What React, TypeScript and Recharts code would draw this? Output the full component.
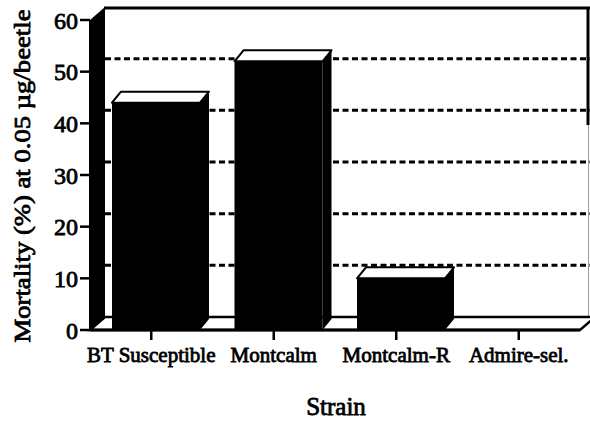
import React from 'react';
import {
  BarChart,
  Bar,
  XAxis,
  YAxis,
  CartesianGrid,
  ReferenceArea,
  Label
} from 'recharts';

const strains = ['BT Susceptible', 'Montcalm', 'Montcalm-R', 'Admire-sel.'];
const mortality = [44, 52, 10, 0];
const yTicks = [0, 10, 20, 30, 40, 50, 60];
const minorTicks = [5, 15, 25, 35, 45, 55];

const data = strains.map((strain, i) => ({ strain, mortality: mortality[i] }));

const FONT = 'Liberation Serif, serif';
// 3D depth of the box and of each bar
const DX = 15;
const DY = -13;
const BDX = 9;
const BDY = -11;
const SHIFT = 5;

function Bar3D(props: any) {
  const { x, y, width, height } = props;
  if (!height || height <= 0) return <g />;
  const x0 = x + SHIFT;
  const x1 = x0 + width;
  return (
    <g>
      <polygon
        points={`${x1},${y} ${x1 + BDX},${y + BDY} ${x1 + BDX},${y + height + BDY} ${x1},${y + height}`}
        fill="#000"
      />
      <rect x={x0} y={y} width={width} height={height} fill="#000" />
      <polygon
        points={`${x0},${y} ${x0 + BDX},${y + BDY} ${x1 + BDX},${y + BDY} ${x1},${y}`}
        fill="#fff"
        stroke="#000"
        strokeWidth={2}
        strokeLinejoin="round"
      />
    </g>
  );
}

function Walls(props: any) {
  const { x, y, width, height } = props;
  const L = x;
  const T = y;
  const R = x + width;
  const B = y + height;
  return (
    <g>
      <polygon points={`${L},${B} ${L},${T} ${L + DX},${T + DY} ${L + DX},${B + DY}`} fill="#000" />
      <line x1={L + DX - 1} y1={T + DY + 1} x2={590} y2={T + DY + 1} stroke="#000" strokeWidth={3} />
      <line x1={588} y1={T + DY} x2={588} y2={125} stroke="#000" strokeWidth={3} />
      <line x1={588.5} y1={125} x2={588.5} y2={B + DY} stroke="#999" strokeWidth={1} />
      <polygon
        points={`${L},${B} ${L + DX},${B + DY} ${R + DX},${B + DY} ${R},${B}`}
        fill="#fff"
        stroke="#000"
        strokeWidth={2.5}
      />
    </g>
  );
}

function GridLine(props: any) {
  const { x1, x2, y1, y, height } = props;
  if (Math.abs(y1 - y) < 1 || Math.abs(y1 - (y + height)) < 1) return <g />;
  return (
    <line
      x1={x1 + DX}
      y1={y1 + DY}
      x2={x2 + DX}
      y2={y1 + DY}
      stroke="#000"
      strokeWidth={3}
      strokeDasharray="6 3.5"
    />
  );
}

const textStyle = { fontFamily: FONT, fill: '#000', stroke: '#000', strokeWidth: 0.8 };

export default function App() {
  return (
    <div style={{ position: 'absolute', left: 0, top: 0, width: 590, height: 423, background: '#fff' }}>
      <BarChart
        width={590}
        height={423}
        data={data}
        margin={{ top: 20, right: 10, bottom: 0, left: 0 }}
        barSize={88}
      >
        <CartesianGrid vertical={false} horizontal={GridLine} />
        <ReferenceArea y1={0} y2={60} shape={Walls} ifOverflow="visible" zIndex={-50} />
        <YAxis
          yAxisId="minor"
          width={0}
          domain={[0, 60]}
          ticks={minorTicks}
          tick={false}
          tickSize={5}
          axisLine={false}
          tickLine={{ stroke: '#000', strokeWidth: 2 }}
        />
        <YAxis
          width={90}
          domain={[0, 60]}
          ticks={yTicks}
          interval={0}
          tickSize={10}
          tickMargin={2}
          axisLine={{ stroke: '#000', strokeWidth: 2 }}
          tickLine={{ stroke: '#000', strokeWidth: 2.5 }}
          tick={{ ...textStyle, fontSize: 24 }}
        >
          <Label
            content={() => (
              <text
                x={22}
                y={176}
                transform="rotate(-90 22 176)"
                textAnchor="middle"
                dominantBaseline="central"
                style={{ ...textStyle, fontSize: 24 }}
                textLength={333}
                lengthAdjust="spacingAndGlyphs"
              >
                Mortality (%) at 0.05 µg/beetle
              </text>
            )}
          />
        </YAxis>
        <XAxis
          dataKey="strain"
          height={93}
          interval={0}
          tickSize={10}
          tickMargin={7}
          axisLine={{ stroke: '#000', strokeWidth: 3 }}
          tickLine={{ stroke: '#000', strokeWidth: 2.5 }}
          tick={{ ...textStyle, fontSize: 21 }}
        >
          <Label
            content={() => (
              <text
                x={336}
                y={406}
                textAnchor="middle"
                dominantBaseline="central"
                style={{ ...textStyle, fontSize: 25 }}
              >
                Strain
              </text>
            )}
          />
        </XAxis>
        <Bar dataKey="mortality" shape={Bar3D} isAnimationActive={false} />
      </BarChart>
    </div>
  );
}
